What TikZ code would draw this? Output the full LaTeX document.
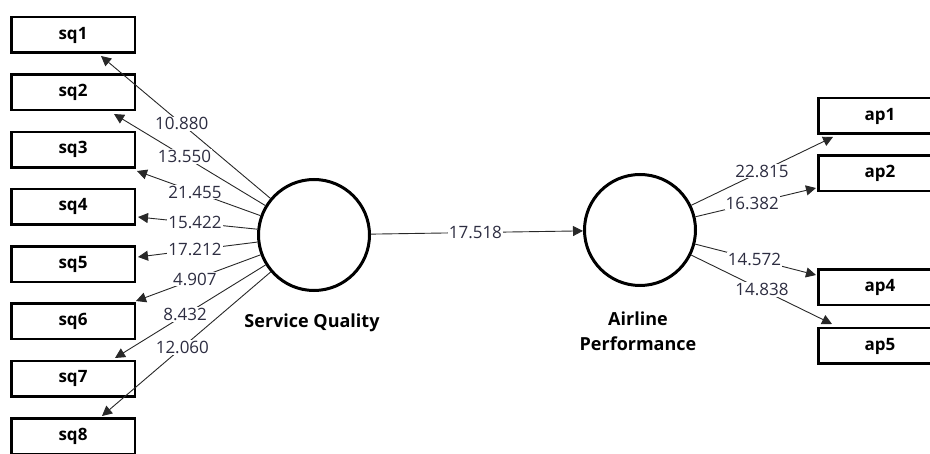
\documentclass[tikz,border=0pt]{standalone}
\usepackage{fontspec}
\setmainfont{Open Sans}
\usetikzlibrary{arrows.meta,calc}
\definecolor{numcol}{RGB}{45,45,65}
\definecolor{linecol}{RGB}{40,40,40}
\tikzset{
  indbox/.style={draw=black,line width=2.5pt,minimum width=123.5pt,minimum height=35.5pt,inner sep=0pt,font=\fontsize{17}{19}\selectfont\bfseries},
  latvar/.style={draw=black,line width=3pt,circle,minimum size=111pt,inner sep=0pt},
  conn/.style={draw=linecol,line width=0.9pt,-{Triangle[length=10pt,width=10pt]}},
  numlbl/.style={fill=white,inner sep=1pt,text=numcol,font=\fontsize{17}{19}\selectfont},
  lvname/.style={font=\fontsize{18}{25}\selectfont\bfseries,align=center}
}
\begin{document}
\begin{tikzpicture}[x=1pt,y=-1pt]
\useasboundingbox (0,0) rectangle (930,454);
\clip (0,0) rectangle (930,454);
% indicator boxes
\node[indbox] (sq1) at (73,35) {sq1};
\node[indbox] (sq2) at (73,92.3) {sq2};
\node[indbox] (sq3) at (73,149.6) {sq3};
\node[indbox] (sq4) at (73,206.9) {sq4};
\node[indbox] (sq5) at (73,264.2) {sq5};
\node[indbox] (sq6) at (73,321.5) {sq6};
\node[indbox] (sq7) at (73,378.8) {sq7};
\node[indbox] (sq8) at (73,436.1) {sq8};
\node[indbox] (ap1) at (880,116) {ap1};
\node[indbox] (ap2) at (880,173.5) {ap2};
\node[indbox] (ap4) at (880,287.5) {ap4};
\node[indbox] (ap5) at (880,346) {ap5};
% latent variables
\node[latvar] (SQ) at (314,235) {};
\node[latvar] (AP) at (640,230) {};
\node[lvname] (sqname) at (312,323) {Service Quality};
\node[lvname] (apname) at (638,331) {Airline\\Performance};
% arrow tips
\coordinate (t1) at (101,56);
\coordinate (t2) at (114,114);
\coordinate (t3) at (137,171);
\coordinate (t4) at (138,217);
\coordinate (t5) at (138,257);
\coordinate (t6) at (136,301);
\coordinate (t7) at (115,358);
\coordinate (t8) at (102,416);
\coordinate (u1) at (833,137);
\coordinate (u2) at (816,188);
\coordinate (u4) at (816,275);
\coordinate (u5) at (832,324);
% connectors
\foreach \t in {t1,t2,t3,t4,t5,t6,t7,t8}{\draw[conn] (SQ) -- (\t);}
\foreach \t in {u1,u2,u4,u5}{\draw[conn] (AP) -- (\t);}
\draw[conn] (SQ) -- (AP);
% labels
\node[numlbl] (l1) at ($(SQ.center)!0.621!(t1)$) {10.880};
\node[numlbl] (l2) at ($(SQ.center)!0.648!(t2)$) {13.550};
\node[numlbl] (l3) at ($(SQ.center)!0.672!(t3)$) {21.455};
\node[numlbl] (l4) at ($(SQ.center)!0.676!(t4)$) {15.422};
\node[numlbl] (l5) at ($(SQ.center)!0.676!(t5)$) {17.212};
\node[numlbl] (l6) at ($(SQ.center)!0.669!(t6)$) {4.907};
\node[numlbl] (l7) at ($(SQ.center)!0.648!(t7)$) {8.432};
\node[numlbl] (l8) at ($(SQ.center)!0.621!(t8)$) {12.060};
\node[numlbl] (m1) at ($(AP.center)!0.632!(u1)$) {22.815};
\node[numlbl] (m2) at ($(AP.center)!0.638!(u2)$) {16.382};
\node[numlbl] (m4) at ($(AP.center)!0.650!(u4)$) {14.572};
\node[numlbl] (m5) at ($(AP.center)!0.635!(u5)$) {14.838};
\node[numlbl] (m0) at ($(SQ.center)!0.495!(AP.center)$) {17.518};
\end{tikzpicture}
\end{document}
